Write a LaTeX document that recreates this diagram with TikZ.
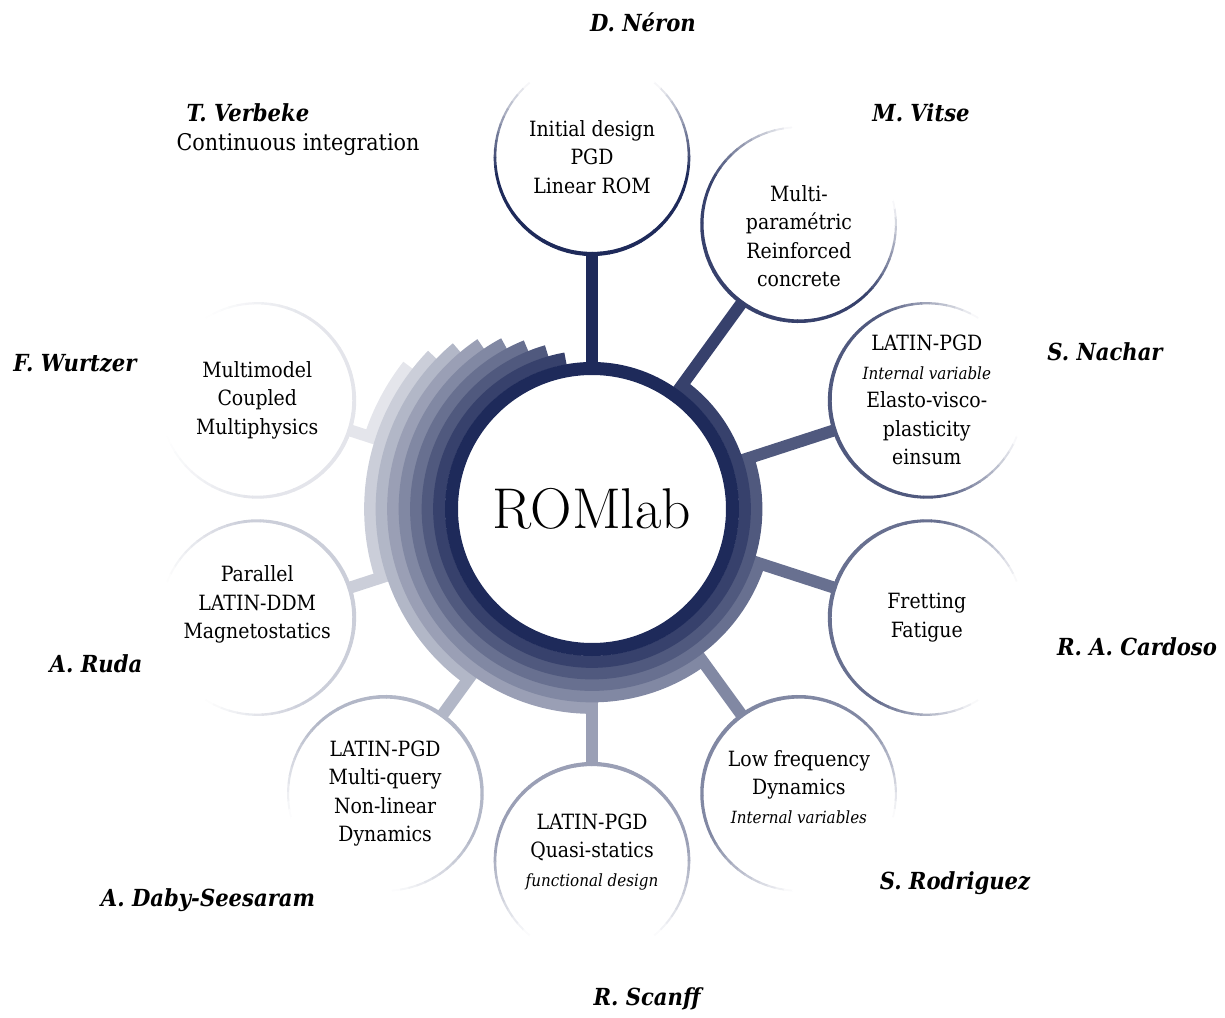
\documentclass[tikz,border=0pt]{standalone}
\usepackage{fontspec}
\setmainfont{DejaVu Serif Condensed}
\newfontfamily\lmfont{Latin Modern Roman}

% one tone per member, from dark navy to almost white
\definecolor{navy}{RGB}{30,42,90}
\colorlet{tone0}{navy}
\colorlet{tone1}{navy!89!white}
\colorlet{tone2}{navy!78!white}
\colorlet{tone3}{navy!67!white}
\colorlet{tone4}{navy!56!white}
\colorlet{tone5}{navy!45!white}
\colorlet{tone6}{navy!34!white}
\colorlet{tone7}{navy!23!white}
\colorlet{tone8}{navy!12!white}

\newcommand{\smallit}[1]{{\fontsize{16.8}{20}\selectfont\itshape #1}}

\tikzset{
    topic/.style={align=center, inner sep=0pt, font=\fontsize{21}{28.5}\selectfont},
    person/.style={inner sep=0pt, font=\fontsize{23.5}{28}\selectfont\bfseries\itshape},
    member/.style={circle, minimum size=194pt, inner sep=0pt},
    spoke/.style={line width=12pt},
    band/.style={line width=12.2pt},
}

\begin{document}
\begin{tikzpicture}[x=1pt, y=1pt]
    \useasboundingbox (-592,-508) rectangle (633,509);

    % Hub
    \node[circle, minimum size=268pt, inner sep=0pt] (romlab) at (0,0)
        {\lmfont\fontsize{57.5}{64}\selectfont ROMlab};

    % Member circles and their topics
    \foreach \k/\dy/\txt in {
        0/0/{Initial design\\PGD\\Linear ROM},
        1/-12/{Multi-\\paramétric\\Reinforced\\concrete},
        2/0/{LATIN-PGD\\\smallit{Internal variable}\\Elasto-visco-\\plasticity\\einsum},
        3/0/{Fretting\\Fatigue},
        4/7/{Low frequency\\Dynamics\\\smallit{Internal variables}},
        5/9/{LATIN-PGD\\Quasi-statics\\\smallit{functional design}},
        6/0/{LATIN-PGD\\Multi-query\\Non-linear\\Dynamics},
        7/13/{Parallel\\LATIN-DDM\\Magnetostatics},
        8/0/{Multimodel\\Coupled\\Multiphysics}} {
        \pgfmathsetmacro\ang{90-36*\k}
        \node[member] (s\k) at (\ang:352) {};
        \node[topic] (t\k) at ([yshift=\dy pt]s\k.center) {\txt};
    }

    % Spokes
    \foreach \k in {0,...,8}
        \draw[spoke, color=tone\k] (romlab) -- (s\k);

    % Stacked bands round the hub
    \foreach \k in {8,7,...,1} {
        \pgfmathsetmacro\rr{147+11.5*\k-5.75}
        \pgfmathsetmacro\sa{90-36*\k}
        \pgfmathsetmacro\ea{6*\k-266}
        \draw[band, color=tone\k] (\sa:\rr) arc[start angle=\sa, end angle=\ea, radius=\rr];
    }
    \draw[line width=13pt, color=tone0] (romlab.center) circle[radius=140.5];

    % Outlines, thinning and fading away from the hub
    \foreach \k in {0,...,8} {
        \pgfmathsetmacro\inw{270-36*\k}
        \foreach \t in {-180,-175,...,175} {
            \pgfmathsetmacro\ph{abs(\t+2.5)}
            \pgfmathsetmacro\op{max(0,min(100,(140-\ph)*100/60))}
            \pgfmathsetmacro\lw{4.2-2.4*\ph/140}
            \pgfmathsetmacro\a{\inw+\t}
            \draw[line width=\lw pt, color=tone\k!\op!white] ([shift={(\a:97)}]s\k.center)
                arc[start angle=\a, delta angle=5.4, radius=97];
        }
    }

    % Names
    \node[person] (nNeron) at (51,487) {D. Néron};
    \node[person] (nVitse) at (329,396) {M. Vitse};
    \node[person] (nNachar) at (513,157) {S. Nachar};
    \node[person] (nCardoso) at (545,-138) {R. A. Cardoso};
    \node[person] (nRodriguez) at (363,-374) {S. Rodriguez};
    \node[person] (nScanff) at (55,-490) {R. Scanff};
    \node[person] (nDaby) at (-384,-391) {A. Daby-Seesaram};
    \node[person] (nRuda) at (-496,-155) {A. Ruda};
    \node[person] (nWurtzer) at (-517,146) {F. Wurtzer};
    \node[person] (nVerbeke) at (-344,396) {T. Verbeke};
    \node[topic, font=\fontsize{23}{28}\selectfont] (tVerbeke) at (-294,364) {Continuous integration};
\end{tikzpicture}
\end{document}
